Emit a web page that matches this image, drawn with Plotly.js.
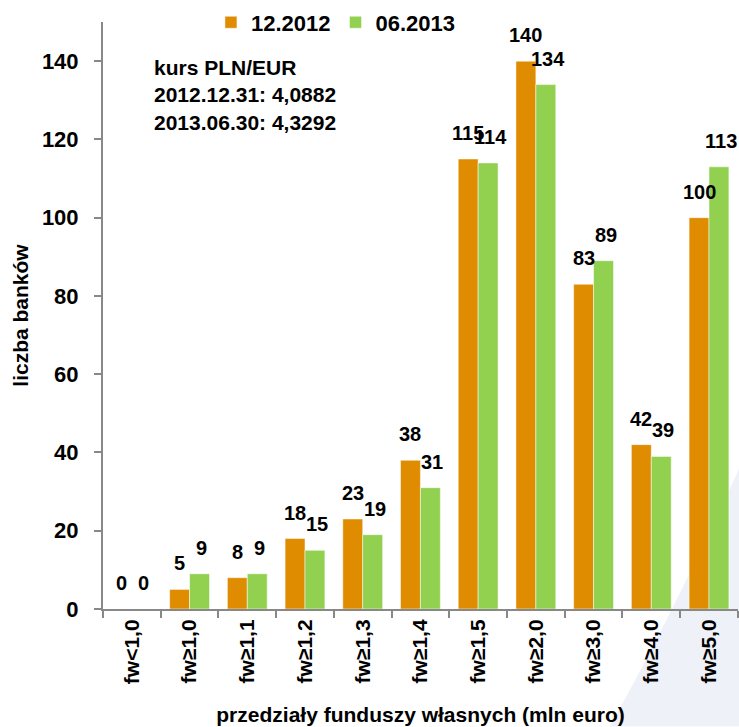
<!DOCTYPE html>
<html>
<head>
<meta charset="utf-8">
<script src="https://cdn.plot.ly/plotly-3.0.1.min.js"></script>
<style>html,body{margin:0;padding:0;background:#fff;}#chart{width:739px;height:727px;}</style>
</head>
<body>
<div id="chart"></div>
<script>
const categories = ["fw<1,0","fw≥1,0","fw≥1,1","fw≥1,2","fw≥1,3","fw≥1,4","fw≥1,5","fw≥2,0","fw≥3,0","fw≥4,0","fw≥5,0"];
const seriesNames = ["12.2012","06.2013"];
const values2012 = [0,5,8,18,23,38,115,140,83,42,100];
const values2013 = [0,9,9,15,19,31,114,134,89,39,113];
const noteLines = ["kurs PLN/EUR","2012.12.31: 4,0882","2013.06.30: 4,3292"];
const yTicks = [0,20,40,60,80,100,120,140];

const FONT = "'Liberation Sans Narrow', 'Arial Narrow', 'Liberation Sans', Arial, sans-serif";
const ORANGE = "#DF8C00";
const GREEN = "#92D050";

const traces = [
  {type:"bar", name:seriesNames[0], x:categories, y:values2012,
   marker:{color:ORANGE, line:{color:"rgba(255,255,255,0.5)", width:1}}, hoverinfo:"none"},
  {type:"bar", name:seriesNames[1], x:categories, y:values2013,
   marker:{color:GREEN, line:{color:"rgba(255,255,255,0.5)", width:1}}, hoverinfo:"none"}
];

const annotations = [];
[values2012, values2013].forEach((vals, s) => {
  vals.forEach((v, i) => {
    annotations.push({x:categories[i], y:v, xref:"x", yref:"y", text:String(v),
      showarrow:false, yanchor:"bottom", xanchor:"center", xshift: s===0 ? -10 : 12, yshift:14,
      borderpad:0,
      font:{family:FONT, size:20, color:"#000", weight:"bold"}});
  });
});
annotations.push({xref:"paper", yref:"paper", x:(152-103)/635, y:(609-52)/589, xanchor:"left", yanchor:"top",
  align:"left", showarrow:false, text:noteLines.join("<br>"),
  font:{family:FONT, size:21, color:"#000", weight:"bold"}});

const layout = {
  width:739, height:727,
  margin:{l:103, r:1, t:20, b:118},
  paper_bgcolor:"#fff", plot_bgcolor:"rgba(0,0,0,0)",
  barmode:"group", bargap:0.31, bargroupgap:0,
  font:{family:FONT, color:"#000"},
  showlegend:true,
  legend:{orientation:"h", x:0.17, xanchor:"left", y:1.035, yanchor:"top",
    font:{family:FONT, size:22, color:"#000", weight:"bold"}, bgcolor:"rgba(0,0,0,0)", traceorder:"normal"},
  xaxis:{type:"category", showgrid:false, showline:true, linecolor:"#888", linewidth:2,
    ticks:"outside", ticklen:7, tickcolor:"#888", tickwidth:2, tickson:"boundaries",
    tickangle:-90, tickfont:{family:FONT, size:21, color:"#000", weight:"bold"},
    title:{text:"przedziały funduszy własnych (mln euro)", font:{family:FONT, size:21, color:"#000", weight:"bold"}, standoff:24},
    fixedrange:true},
  yaxis:{range:[0,150], showgrid:false, zeroline:false, showline:true, linecolor:"#888", linewidth:2,
    ticks:"outside", ticklen:7, tickcolor:"#888", tickwidth:2, tickvals:yTicks, ticktext:yTicks.map(String),
    ticklabelstandoff:11,
    tickfont:{family:FONT, size:22, color:"#000", weight:"bold"},
    title:{text:"liczba banków", font:{family:FONT, size:21, color:"#000", weight:"bold"}, standoff:8},
    fixedrange:true},
  shapes:[{type:"path", xref:"paper", yref:"paper", layer:"below", line:{width:0}, fillcolor:"#EEF1F7",
    path:"M "+((610-103)/635)+" "+((609-727)/589)+" Q "+((680-103)/635)+" "+((609-600)/589)+" "+((745-103)/635)+" "+((609-455)/589)+" L "+((745-103)/635)+" "+((609-727)/589)+" Z"}],
  annotations:annotations
};

Plotly.newPlot("chart", traces, layout, {displayModeBar:false, staticPlot:true});
</script>
</body>
</html>
